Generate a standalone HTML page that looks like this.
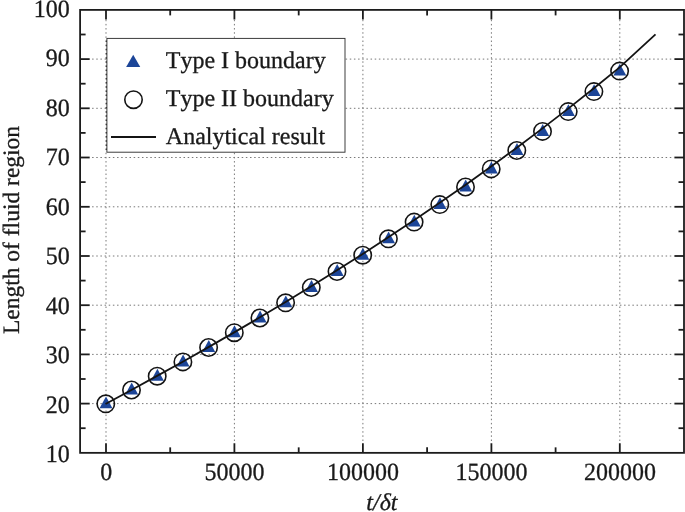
<!DOCTYPE html>
<html lang="en"><head><meta charset="utf-8"><title>Length of fluid region</title>
<style>html,body{margin:0;padding:0;background:#fff;}body{width:685px;height:512px;overflow:hidden;}svg{display:block;}text{font-family:"Liberation Serif",serif;font-size:24px;fill:#1a1a1a;stroke:#1a1a1a;stroke-width:0.3px;font-kerning:none;text-rendering:geometricPrecision;}</style></head><body>
<svg width="685" height="512" viewBox="0 0 685 512">
<rect width="685" height="512" fill="#fff"/>
<g stroke="#787878" stroke-width="1" stroke-dasharray="1.5 2.656" fill="none">
<line x1="92.1" y1="403.6" x2="674.0" y2="403.6"/>
<line x1="92.1" y1="354.4" x2="674.0" y2="354.4"/>
<line x1="92.1" y1="305.2" x2="674.0" y2="305.2"/>
<line x1="92.1" y1="256.0" x2="674.0" y2="256.0"/>
<line x1="92.1" y1="206.8" x2="674.0" y2="206.8"/>
<line x1="92.1" y1="157.5" x2="674.0" y2="157.5"/>
<line x1="92.1" y1="108.3" x2="674.0" y2="108.3"/>
<line x1="92.1" y1="59.1" x2="674.0" y2="59.1"/>
<line x1="106.0" y1="441.0" x2="106.0" y2="19.9"/>
<line x1="234.4" y1="441.0" x2="234.4" y2="19.9"/>
<line x1="362.9" y1="441.0" x2="362.9" y2="19.9"/>
<line x1="491.4" y1="441.0" x2="491.4" y2="19.9"/>
<line x1="619.8" y1="441.0" x2="619.8" y2="19.9"/>
</g>
<rect x="80.1" y="9.9" width="603.9" height="442.95" fill="none" stroke="#1c1c1c" stroke-width="1.8"/>
<g stroke="#1c1c1c" stroke-width="1.8" fill="none">
<line x1="80.1" y1="428.2" x2="85.6" y2="428.2"/>
<line x1="684.0" y1="428.2" x2="678.5" y2="428.2"/>
<line x1="80.1" y1="403.6" x2="89.7" y2="403.6"/>
<line x1="684.0" y1="403.6" x2="674.4" y2="403.6"/>
<line x1="80.1" y1="379.0" x2="85.6" y2="379.0"/>
<line x1="684.0" y1="379.0" x2="678.5" y2="379.0"/>
<line x1="80.1" y1="354.4" x2="89.7" y2="354.4"/>
<line x1="684.0" y1="354.4" x2="674.4" y2="354.4"/>
<line x1="80.1" y1="329.8" x2="85.6" y2="329.8"/>
<line x1="684.0" y1="329.8" x2="678.5" y2="329.8"/>
<line x1="80.1" y1="305.2" x2="89.7" y2="305.2"/>
<line x1="684.0" y1="305.2" x2="674.4" y2="305.2"/>
<line x1="80.1" y1="280.6" x2="85.6" y2="280.6"/>
<line x1="684.0" y1="280.6" x2="678.5" y2="280.6"/>
<line x1="80.1" y1="256.0" x2="89.7" y2="256.0"/>
<line x1="684.0" y1="256.0" x2="674.4" y2="256.0"/>
<line x1="80.1" y1="231.4" x2="85.6" y2="231.4"/>
<line x1="684.0" y1="231.4" x2="678.5" y2="231.4"/>
<line x1="80.1" y1="206.8" x2="89.7" y2="206.8"/>
<line x1="684.0" y1="206.8" x2="674.4" y2="206.8"/>
<line x1="80.1" y1="182.1" x2="85.6" y2="182.1"/>
<line x1="684.0" y1="182.1" x2="678.5" y2="182.1"/>
<line x1="80.1" y1="157.5" x2="89.7" y2="157.5"/>
<line x1="684.0" y1="157.5" x2="674.4" y2="157.5"/>
<line x1="80.1" y1="132.9" x2="85.6" y2="132.9"/>
<line x1="684.0" y1="132.9" x2="678.5" y2="132.9"/>
<line x1="80.1" y1="108.3" x2="89.7" y2="108.3"/>
<line x1="684.0" y1="108.3" x2="674.4" y2="108.3"/>
<line x1="80.1" y1="83.7" x2="85.6" y2="83.7"/>
<line x1="684.0" y1="83.7" x2="678.5" y2="83.7"/>
<line x1="80.1" y1="59.1" x2="89.7" y2="59.1"/>
<line x1="684.0" y1="59.1" x2="674.4" y2="59.1"/>
<line x1="80.1" y1="34.5" x2="85.6" y2="34.5"/>
<line x1="684.0" y1="34.5" x2="678.5" y2="34.5"/>
<line x1="106.0" y1="452.85" x2="106.0" y2="443.25"/>
<line x1="106.0" y1="9.9" x2="106.0" y2="19.5"/>
<line x1="170.2" y1="452.85" x2="170.2" y2="447.35"/>
<line x1="170.2" y1="9.9" x2="170.2" y2="15.4"/>
<line x1="234.4" y1="452.85" x2="234.4" y2="443.25"/>
<line x1="234.4" y1="9.9" x2="234.4" y2="19.5"/>
<line x1="298.7" y1="452.85" x2="298.7" y2="447.35"/>
<line x1="298.7" y1="9.9" x2="298.7" y2="15.4"/>
<line x1="362.9" y1="452.85" x2="362.9" y2="443.25"/>
<line x1="362.9" y1="9.9" x2="362.9" y2="19.5"/>
<line x1="427.1" y1="452.85" x2="427.1" y2="447.35"/>
<line x1="427.1" y1="9.9" x2="427.1" y2="15.4"/>
<line x1="491.4" y1="452.85" x2="491.4" y2="443.25"/>
<line x1="491.4" y1="9.9" x2="491.4" y2="19.5"/>
<line x1="555.6" y1="452.85" x2="555.6" y2="447.35"/>
<line x1="555.6" y1="9.9" x2="555.6" y2="15.4"/>
<line x1="619.8" y1="452.85" x2="619.8" y2="443.25"/>
<line x1="619.8" y1="9.9" x2="619.8" y2="19.5"/>
</g>
<g text-anchor="end">
<text transform="translate(69.8 462.0) scale(1 1.04)">10</text>
<text transform="translate(69.8 412.5) scale(1 1.04)">20</text>
<text transform="translate(69.8 363.0) scale(1 1.04)">30</text>
<text transform="translate(69.8 313.5) scale(1 1.04)">40</text>
<text transform="translate(69.8 264.0) scale(1 1.04)">50</text>
<text transform="translate(69.8 214.5) scale(1 1.04)">60</text>
<text transform="translate(69.8 165.0) scale(1 1.04)">70</text>
<text transform="translate(69.8 115.5) scale(1 1.04)">80</text>
<text transform="translate(69.8 66.0) scale(1 1.04)">90</text>
<text transform="translate(69.8 16.5) scale(1 1.04)">100</text>
</g>
<g text-anchor="middle">
<text transform="translate(106.2 480.3) scale(1 1.03)">0</text>
<text transform="translate(234.6 480.3) scale(1 1.03)">50000</text>
<text transform="translate(363.1 480.3) scale(1 1.03)">100000</text>
<text transform="translate(491.6 480.3) scale(1 1.03)">150000</text>
<text transform="translate(620.0 480.3) scale(1 1.03)">200000</text>
<text x="381.9" y="509.6" font-style="italic">t/δt</text>
<text transform="translate(18.8 230) rotate(-90)" style="font-size:23.5px">Length of fluid region</text>
</g>
<g>
<path d="M106.0 396.4 L112.45 408.3 L99.55 408.3 Z" fill="#1c4598"/>
<circle cx="105.8" cy="403.8" r="8.7" fill="none" stroke="#141414" stroke-width="1.6"/>
<path d="M131.7 382.6 L138.14 394.5 L125.24 394.5 Z" fill="#1c4598"/>
<circle cx="131.5" cy="390.0" r="8.7" fill="none" stroke="#141414" stroke-width="1.6"/>
<path d="M157.4 368.8 L163.83 380.7 L150.93 380.7 Z" fill="#1c4598"/>
<circle cx="157.2" cy="376.2" r="8.7" fill="none" stroke="#141414" stroke-width="1.6"/>
<path d="M183.1 354.5 L189.52 366.4 L176.62 366.4 Z" fill="#1c4598"/>
<circle cx="182.9" cy="361.9" r="8.7" fill="none" stroke="#141414" stroke-width="1.6"/>
<path d="M208.8 340.1 L215.21 352.0 L202.31 352.0 Z" fill="#1c4598"/>
<circle cx="208.6" cy="347.5" r="8.7" fill="none" stroke="#141414" stroke-width="1.6"/>
<path d="M234.5 325.3 L240.90 337.2 L228.00 337.2 Z" fill="#1c4598"/>
<circle cx="234.3" cy="332.7" r="8.7" fill="none" stroke="#141414" stroke-width="1.6"/>
<path d="M260.1 310.6 L266.59 322.5 L253.69 322.5 Z" fill="#1c4598"/>
<circle cx="259.9" cy="318.0" r="8.7" fill="none" stroke="#141414" stroke-width="1.6"/>
<path d="M285.8 295.4 L292.28 307.3 L279.38 307.3 Z" fill="#1c4598"/>
<circle cx="285.6" cy="302.8" r="8.7" fill="none" stroke="#141414" stroke-width="1.6"/>
<path d="M311.5 280.1 L317.97 292.0 L305.07 292.0 Z" fill="#1c4598"/>
<circle cx="311.3" cy="287.5" r="8.7" fill="none" stroke="#141414" stroke-width="1.6"/>
<path d="M337.2 264.1 L343.66 276.0 L330.76 276.0 Z" fill="#1c4598"/>
<circle cx="337.0" cy="271.5" r="8.7" fill="none" stroke="#141414" stroke-width="1.6"/>
<path d="M362.9 247.8 L369.35 259.7 L356.45 259.7 Z" fill="#1c4598"/>
<circle cx="362.7" cy="255.2" r="8.7" fill="none" stroke="#141414" stroke-width="1.6"/>
<path d="M388.6 231.4 L395.04 243.3 L382.14 243.3 Z" fill="#1c4598"/>
<circle cx="388.4" cy="238.8" r="8.7" fill="none" stroke="#141414" stroke-width="1.6"/>
<path d="M414.3 214.7 L420.73 226.6 L407.83 226.6 Z" fill="#1c4598"/>
<circle cx="414.1" cy="222.1" r="8.7" fill="none" stroke="#141414" stroke-width="1.6"/>
<path d="M440.0 197.2 L446.42 209.1 L433.52 209.1 Z" fill="#1c4598"/>
<circle cx="439.8" cy="204.6" r="8.7" fill="none" stroke="#141414" stroke-width="1.6"/>
<path d="M465.7 179.6 L472.11 191.5 L459.21 191.5 Z" fill="#1c4598"/>
<circle cx="465.5" cy="187.0" r="8.7" fill="none" stroke="#141414" stroke-width="1.6"/>
<path d="M491.4 161.5 L497.80 173.4 L484.90 173.4 Z" fill="#1c4598"/>
<circle cx="491.2" cy="168.9" r="8.7" fill="none" stroke="#141414" stroke-width="1.6"/>
<path d="M517.0 143.1 L523.49 155.0 L510.59 155.0 Z" fill="#1c4598"/>
<circle cx="516.8" cy="150.5" r="8.7" fill="none" stroke="#141414" stroke-width="1.6"/>
<path d="M542.7 124.0 L549.18 135.9 L536.28 135.9 Z" fill="#1c4598"/>
<circle cx="542.5" cy="131.4" r="8.7" fill="none" stroke="#141414" stroke-width="1.6"/>
<path d="M568.4 104.2 L574.87 116.1 L561.97 116.1 Z" fill="#1c4598"/>
<circle cx="568.2" cy="111.6" r="8.7" fill="none" stroke="#141414" stroke-width="1.6"/>
<path d="M594.1 84.2 L600.56 96.1 L587.66 96.1 Z" fill="#1c4598"/>
<circle cx="593.9" cy="91.6" r="8.7" fill="none" stroke="#141414" stroke-width="1.6"/>
<path d="M619.8 63.7 L626.25 75.6 L613.35 75.6 Z" fill="#1c4598"/>
<circle cx="619.6" cy="71.1" r="8.7" fill="none" stroke="#141414" stroke-width="1.6"/>
</g>
<path d="M105.5 404.0 L131.4 390.0 L157.1 375.9 L182.8 361.7 L208.5 347.1 L234.2 332.4 L259.9 317.3 L285.6 302.0 L311.3 286.3 L337.0 270.3 L362.7 254.0 L388.3 237.3 L414.0 220.2 L439.7 202.8 L465.4 184.9 L491.1 166.5 L516.8 147.7 L542.5 128.4 L568.2 108.6 L593.9 88.3 L619.6 67.4 L655.5 34.3" fill="none" stroke="#141414" stroke-width="1.8" stroke-linejoin="round"/>
<rect x="106.9" y="38.4" width="238.1" height="113.8" fill="#fff" stroke="#333" stroke-width="0.95"/>
<line x1="106.4" y1="152.2" x2="106.4" y2="38.4" stroke="#333" stroke-width="1.1" stroke-dasharray="1.5 2.656" stroke-dashoffset="288.8"/>
<path d="M133.2 54.85 L140.25 67.1 L126.15 67.1 Z" fill="#1c4598"/>
<circle cx="133.5" cy="99.7" r="8.7" fill="none" stroke="#141414" stroke-width="1.6"/>
<line x1="111" y1="136.9" x2="156" y2="136.9" stroke="#141414" stroke-width="2"/>
<text x="165.8" y="67.5">Type I boundary</text>
<text x="165.8" y="106">Type II boundary</text>
<text x="165.8" y="144.4">Analytical result</text>
</svg></body></html>
